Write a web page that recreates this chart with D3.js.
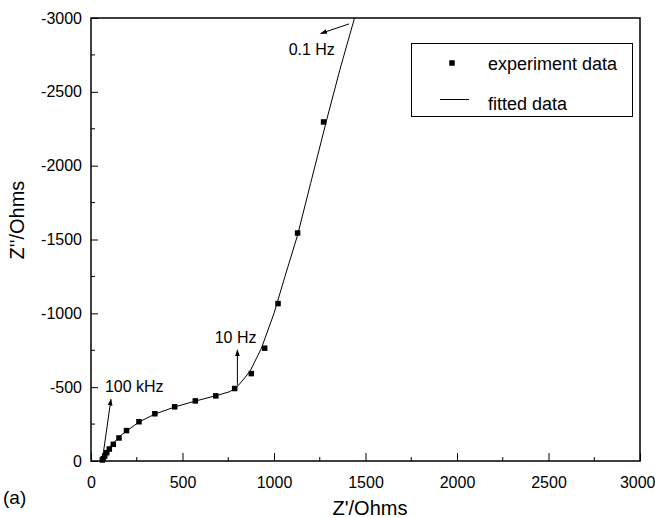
<!DOCTYPE html>
<html><head><meta charset="utf-8">
<script src="https://cdn.jsdelivr.net/npm/d3@7"></script>
<style>body{margin:0;background:#fff}svg{display:block}text{font-family:Arial,"Liberation Sans",sans-serif;fill:#000}</style>
</head><body><div id="c"></div>
<script>
// experiment data: Z' (Ohms), Z'' (Ohms)
const expRe = [62, 67, 75, 86, 100, 122, 153, 194, 262, 349, 457, 570, 682, 785, 876, 949, 1022, 1129, 1271];
const expIm = [-7, -16, -34, -56, -81, -113, -156, -206, -266, -320, -367, -407, -441, -491, -592, -764, -1066, -1544, -2296];
// fitted data
const fitRe = [58, 63, 70, 80, 95, 115, 140, 170, 205, 262, 350, 458, 570, 682, 760, 800, 835, 870, 931, 1000, 1060, 1129, 1200, 1290, 1360, 1440];
const fitIm = [0, -15, -32, -55, -82, -112, -145, -180, -212, -264, -318, -366, -406, -442, -470, -505, -555, -610, -763, -1000, -1250, -1530, -1880, -2320, -2650, -3000];
const xTicks = [0, 500, 1000, 1500, 2000, 2500, 3000];
const yTicks = [0, -500, -1000, -1500, -2000, -2500, -3000];
const annotations = [
  {label: "100 kHz", from: [62, -7], to: [109, -418], tx: 76, ty: -467},
  {label: "10 Hz", from: [800, -515], to: [800, -752], tx: 676, ty: -799},
  {label: "0.1 Hz", from: [1410, -2960], to: [1255, -2895], tx: 1080, ty: -2749}
];

const W = 655, H = 518;
const m = {l: 91, r: 15, t: 18, b: 57};
const svg = d3.select("#c").append("svg").attr("width", W).attr("height", H);
const x = d3.scaleLinear().domain([0, 3000]).range([m.l, W - m.r]);
const y = d3.scaleLinear().domain([0, -3000]).range([H - m.b, m.t]);

svg.append("defs").append("marker").attr("id", "ah").attr("viewBox", "0 0 10 10")
  .attr("refX", 9).attr("refY", 5).attr("markerWidth", 7).attr("markerHeight", 7)
  .attr("orient", "auto-start-reverse").append("path").attr("d", "M0,1.5L10,5L0,8.5Z").attr("fill", "#000");

const minorX = d3.range(250, 3000, 500), minorY = d3.range(-250, -3000, -500);
const gx = svg.append("g").attr("transform", `translate(0,${H - m.b})`)
  .call(d3.axisBottom(x).tickValues(xTicks).tickSize(-8).tickPadding(16).tickFormat(d3.format("d")));
const gy = svg.append("g").attr("transform", `translate(${m.l},0)`)
  .call(d3.axisLeft(y).tickValues(yTicks).tickSize(-7).tickPadding(9).tickFormat(d => d === 0 ? "0" : "-" + Math.abs(d)));
[gx, gy].forEach(g => {
  g.select(".domain").remove();
  g.selectAll("line").attr("stroke", "#000").attr("stroke-width", 1);
  g.selectAll("text").attr("font-size", 16).attr("font-family", "Arial, 'Liberation Sans', sans-serif");
});
gx.selectAll(".tick text").filter(d => d === 3000).attr("text-anchor", "end").attr("dx", 15);
svg.append("g").selectAll("line").data(minorX).join("line")
  .attr("x1", d => x(d)).attr("x2", d => x(d)).attr("y1", H - m.b).attr("y2", H - m.b - 4).attr("stroke", "#000");
svg.append("g").selectAll("line").data(minorY).join("line")
  .attr("y1", d => y(d)).attr("y2", d => y(d)).attr("x1", m.l).attr("x2", m.l + 4).attr("stroke", "#000");
svg.append("rect").attr("x", m.l).attr("y", m.t).attr("width", W - m.r - m.l).attr("height", H - m.b - m.t)
  .attr("fill", "none").attr("stroke", "#000").attr("stroke-width", 1.5);

// fitted line
const fit = fitRe.map((v, i) => [v, fitIm[i]]);
svg.append("path").datum(fit).attr("fill", "none").attr("stroke", "#000").attr("stroke-width", 1)
  .attr("d", d3.line().x(d => x(d[0])).y(d => y(d[1])));
// experiment points
const s = 5.5;
svg.append("g").selectAll("rect").data(expRe.map((v, i) => [v, expIm[i]])).join("rect")
  .attr("x", d => x(d[0]) - s / 2).attr("y", d => y(d[1]) - s / 2).attr("width", s).attr("height", s).attr("fill", "#000");

// annotations
annotations.forEach(a => {
  svg.append("line").attr("x1", x(a.from[0])).attr("y1", y(a.from[1])).attr("x2", x(a.to[0])).attr("y2", y(a.to[1]))
    .attr("stroke", "#000").attr("stroke-width", 1).attr("marker-end", "url(#ah)");
  svg.append("text").attr("x", x(a.tx)).attr("y", y(a.ty)).attr("font-size", 16).text(a.label);
});

// legend
const lg = svg.append("g");
lg.append("rect").attr("x", 411.5).attr("y", 43.5).attr("width", 221).attr("height", 73).attr("fill", "#fff").attr("stroke", "#000");
lg.append("rect").attr("x", 452 - s / 2).attr("y", 63 - s / 2).attr("width", s).attr("height", s).attr("fill", "#000");
lg.append("line").attr("x1", 440).attr("x2", 469).attr("y1", 99.5).attr("y2", 99.5).attr("stroke", "#000");
lg.append("text").attr("x", 488).attr("y", 70).attr("font-size", 18).text("experiment data");
lg.append("text").attr("x", 488).attr("y", 110).attr("font-size", 18).text("fitted data");

// axis titles
svg.append("text").attr("x", 370).attr("y", 515).attr("text-anchor", "middle").attr("font-size", 20).text("Z'/Ohms");
svg.append("text").attr("transform", `translate(24,220) rotate(-90)`).attr("text-anchor", "middle").attr("font-size", 20).text("Z''/Ohms");
svg.append("text").attr("x", 3).attr("y", 504).attr("font-size", 19).text("(a)");
</script></body></html>
